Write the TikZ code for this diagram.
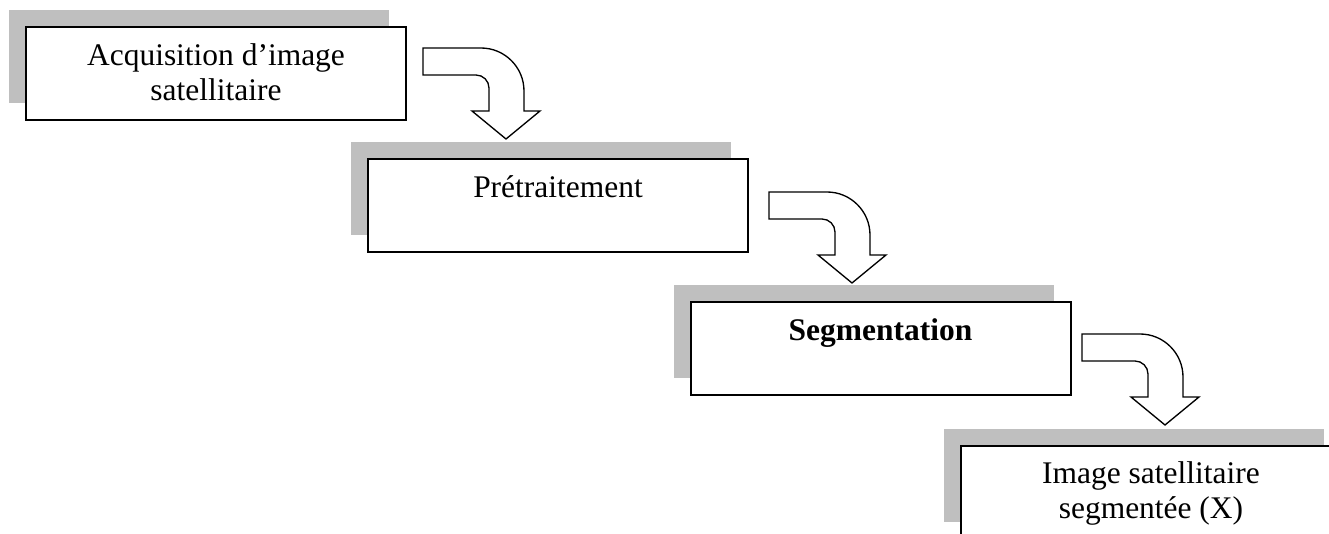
\documentclass[tikz,border=0pt]{standalone}
\usepackage{fontspec}
\setmainfont{Liberation Serif}
\usetikzlibrary{shadows}
\definecolor{ombre}{HTML}{BFBFBF}
\tikzset{
  etape/.style={draw, fill=white, line width=1.5pt, minimum width=285pt, minimum height=69.75pt, inner sep=0pt,
    general shadow={fill=ombre, shadow xshift=-12.75pt, shadow yshift=12.75pt}},
  libelle/.style={anchor=base, align=center, inner sep=0pt, font=\fontsize{23.6}{26.25}\selectfont},
  virage/.pic={
    \draw[fill=white, line width=1pt, line join=miter] (0,0) -- (58,0) .. controls (81.7,0) and (101,19.3) .. (101,43)
      -- (101,63) -- (117,63) -- (83,91) -- (49,63) -- (66,63) -- (66,40)
      .. controls (66,32.8) and (60.2,27) .. (53,27) -- (0,27) -- cycle;
  }
}
\begin{document}
\begin{tikzpicture}[x=0.75pt, y=-0.75pt]
        \useasboundingbox (0,0) rectangle (1329,534);
        \clip (0,0) rectangle (1329,534);
        \node[etape] at (216, 73.5)   (acq)  {};
        \node[etape] at (558, 205.5)  (pre)  {};
        \node[etape] at (880.5, 348.5) (seg) {};
        \node[etape] at (1151, 492.5) (res)  {};
        % base = last line for two-line labels
        \node[libelle] at ([yshift=-56.25pt]acq.north) (t-acq) {Acquisition d’image\\satellitaire};
        \node[libelle] at ([yshift=-30pt]pre.north) (t-pre) {Prétraitement};
        \node[libelle] at ([yshift=-30pt]seg.north) (t-seg) {\textbf{Segmentation}};
        \node[libelle] at ([yshift=-55.5pt]res.north) (t-res) {Image satellitaire\\segmentée (X)};
        \pic at (423, 48)  {virage};
        \pic at (769, 192) {virage};
        \pic at (1082, 334) {virage};
    \end{tikzpicture}
\end{document}
